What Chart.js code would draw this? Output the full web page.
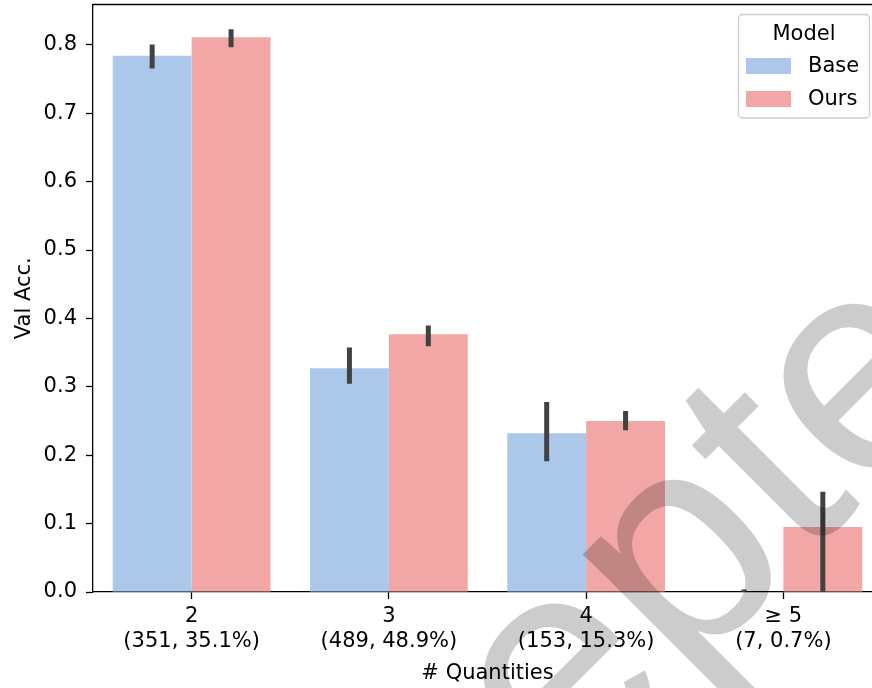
<!DOCTYPE html>
<html>
<head>
<meta charset="utf-8">
<script src="https://cdn.jsdelivr.net/npm/chart.js@4.4.1/dist/chart.umd.min.js"></script>
<style>
    html, body { margin: 0; padding: 0; overflow: hidden; background: #fff; }
    #wrap { position: relative; width: 882px; height: 688px; }
</style>
</head>
<body>
<div id="wrap"><canvas id="chart"></canvas></div>
<script>
// Data
const categories = [
    ['2', '(351, 35.1%)'],
    ['3', '(489, 48.9%)'],
    ['4', '(153, 15.3%)'],
    ['\u2265 5', '(7, 0.7%)']
];
const seriesNames = ['Base', 'Ours'];
const baseAcc = [0.784, 0.327, 0.232, 0.0];
const oursAcc = [0.811, 0.377, 0.250, 0.095];
// 95% CI bounds (error bars)
const baseLow = [0.769, 0.308, 0.195, 0.0];
const baseHigh = [0.797, 0.354, 0.274, 0.0];
const oursLow = [0.800, 0.363, 0.240, 0.0];
const oursHigh = [0.819, 0.386, 0.261, 0.143];
const yTicks = [0.0, 0.1, 0.2, 0.3, 0.4, 0.5, 0.6, 0.7, 0.8];
const watermarkText = 'Accepted';

const FONT = "'DejaVu Sans', sans-serif";
const baseColor = 'rgb(171, 200, 235)';
const oursColor = 'rgb(242, 167, 166)';

// Error bars, drawn on top of the bars from the bar elements
const errorBarPlugin = {
    id: 'errorBars',
    afterDatasetsDraw(chart) {
        const ctx = chart.ctx;
        const y = chart.scales.y;
        const area = chart.chartArea;
        ctx.save();
        ctx.beginPath();
        ctx.rect(area.left, area.top, area.right - area.left, area.bottom - area.top);
        ctx.clip();
        ctx.strokeStyle = '#424242';
        ctx.lineWidth = 5;
        ctx.lineCap = 'square';
        chart.data.datasets.forEach((ds, di) => {
            const meta = chart.getDatasetMeta(di);
            meta.data.forEach((bar, i) => {
                ctx.beginPath();
                ctx.moveTo(bar.x, y.getPixelForValue(ds.errLow[i]));
                ctx.lineTo(bar.x, y.getPixelForValue(ds.errHigh[i]));
                ctx.stroke();
            });
        });
        ctx.restore();
    }
};

// Top spine, legend box, watermark
const decorPlugin = {
    id: 'decor',
    afterDraw(chart) {
        const ctx = chart.ctx;
        const area = chart.chartArea;
        ctx.save();

        // top spine
        ctx.strokeStyle = '#000';
        ctx.lineWidth = 1.3;
        ctx.beginPath();
        ctx.moveTo(area.left, area.top);
        ctx.lineTo(area.right, area.top);
        ctx.stroke();

        // legend
        ctx.fillStyle = 'rgba(255,255,255,0.8)';
        ctx.strokeStyle = '#cccccc';
        ctx.lineWidth = 1.3;
        ctx.beginPath();
        ctx.roundRect(738.5, 14.5, 131, 103.5, 4);
        ctx.fill();
        ctx.stroke();

        ctx.fillStyle = '#000';
        ctx.font = '21px ' + FONT;
        ctx.textBaseline = 'middle';
        ctx.textAlign = 'center';
        ctx.fillText('Model', 804, 35);
        ctx.textAlign = 'left';
        chart.data.datasets.forEach((ds, i) => {
            const cy = 66 + i * 33;
            ctx.fillStyle = ds.backgroundColor;
            ctx.fillRect(746, cy - 8, 45, 16);
            ctx.fillStyle = '#000';
            ctx.fillText(ds.label, 808, cy + 1);
        });

        // watermark
        ctx.fillStyle = 'rgba(0,0,0,0.2)';
        ctx.font = "305px 'Liberation Sans', Arial, sans-serif";
        ctx.textBaseline = 'alphabetic';
        ctx.translate(203, 1162);
        ctx.rotate(-45 * Math.PI / 180);
        ctx.fillText(watermarkText, 0, 0);

        ctx.restore();
    }
};

new Chart(document.getElementById('chart'), {
    type: 'bar',
    data: {
        labels: categories,
        datasets: [
            {
                label: seriesNames[0],
                data: baseAcc,
                errLow: baseLow,
                errHigh: baseHigh,
                backgroundColor: baseColor,
                borderWidth: 0
            },
            {
                label: seriesNames[1],
                data: oursAcc,
                errLow: oursLow,
                errHigh: oursHigh,
                backgroundColor: oursColor,
                borderWidth: 0
            }
        ]
    },
    options: {
        responsive: true,
        maintainAspectRatio: false,
        animation: false,
        layout: { padding: { top: 4.5, left: 0, right: 0, bottom: 0 } },
        datasets: {
            bar: { barPercentage: 1.0, categoryPercentage: 0.8 }
        },
        plugins: {
            legend: { display: false },
            tooltip: { enabled: false }
        },
        scales: {
            x: {
                offset: true,
                grid: {
                    offset: false,
                    drawOnChartArea: false,
                    drawTicks: true,
                    tickLength: 7,
                    tickColor: '#000',
                    tickWidth: 1.3
                },
                border: { display: true, color: '#000', width: 1.3 },
                ticks: {
                    color: '#000',
                    font: { family: FONT, size: 21, lineHeight: 1.2 },
                    padding: 5,
                    maxRotation: 0,
                    autoSkip: false
                },
                title: {
                    display: true,
                    text: '# Quantities',
                    color: '#000',
                    font: { family: FONT, size: 21 },
                    padding: { top: 0, bottom: 2 }
                },
                afterFit(scale) {
                    scale.height = 96;
                    scale.paddingLeft = 0;
                    scale.paddingRight = 0;
                }
            },
            y: {
                min: 0,
                max: 0.859,
                grid: {
                    drawOnChartArea: false,
                    drawTicks: true,
                    tickLength: 7,
                    tickColor: '#000',
                    tickWidth: 1.3
                },
                border: { display: true, color: '#000', width: 1.3 },
                ticks: {
                    color: '#000',
                    font: { family: FONT, size: 21 },
                    padding: 9,
                    callback: (v) => Number(v).toFixed(1)
                },
                afterBuildTicks(scale) {
                    scale.ticks = yTicks.map(v => ({ value: v }));
                },
                title: {
                    display: true,
                    text: 'Val Acc.',
                    color: '#000',
                    font: { family: FONT, size: 21 },
                    padding: { top: 12, bottom: 0 }
                },
                afterFit(scale) {
                    scale.width = 93;
                    scale.paddingTop = 0;
                    scale.paddingBottom = 0;
                }
            }
        }
    },
    plugins: [errorBarPlugin, decorPlugin]
});
</script>
</body>
</html>
